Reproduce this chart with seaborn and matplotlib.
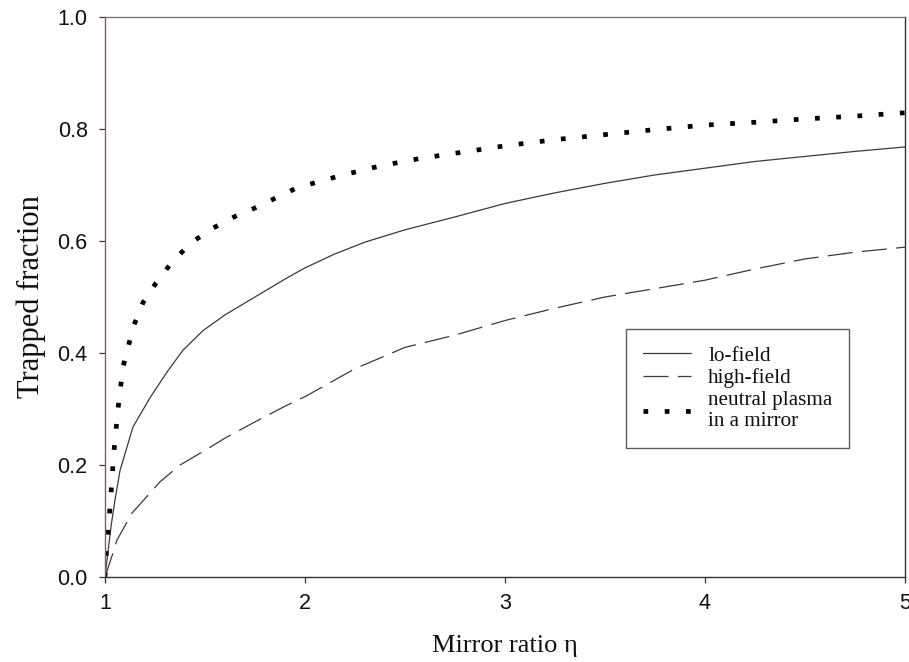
import matplotlib
matplotlib.use("Agg")
import matplotlib.pyplot as plt
import seaborn as sns
import pandas as pd

# ---- data ----
lo_x = [1.0, 1.015, 1.03, 1.05, 1.075, 1.11, 1.14, 1.225, 1.31, 1.39, 1.49, 1.6, 1.75,
        1.9, 2.0, 2.15, 2.3, 2.5, 2.75, 3.0, 3.25, 3.5, 3.75, 4.0, 4.25, 4.5, 4.75, 5.0]
lo_y = [0.0, 0.045, 0.09, 0.1375, 0.19, 0.232, 0.268, 0.32, 0.366, 0.405, 0.44, 0.468, 0.5,
        0.532, 0.552, 0.577, 0.598, 0.62, 0.643, 0.667, 0.686, 0.703, 0.718, 0.73, 0.742,
        0.751, 0.76, 0.768]

hi_x = [1.0, 1.04, 1.06, 1.135, 1.275, 1.375, 1.5, 1.6, 1.75, 1.9, 2.0, 2.25, 2.5, 2.75,
        3.0, 3.25, 3.5, 3.75, 4.0, 4.25, 4.5, 4.75, 5.0]
hi_y = [0.0, 0.043, 0.066, 0.114, 0.17, 0.2, 0.226, 0.248, 0.277, 0.305, 0.322, 0.372,
        0.41, 0.432, 0.458, 0.48, 0.5, 0.515, 0.53, 0.55, 0.568, 0.58, 0.589]

nt_x = [1.0, 1.005, 1.015, 1.03, 1.045, 1.065, 1.09, 1.115, 1.145, 1.19, 1.255, 1.335,
        1.435, 1.54, 1.645, 1.75, 1.855, 1.96, 2.17, 2.375, 2.585, 2.795, 3.0, 3.25,
        3.5, 3.75, 4.0, 4.25, 4.5, 4.75, 5.0]
nt_y = [0.0, 0.0375, 0.075, 0.15, 0.225, 0.30, 0.375, 0.41, 0.45, 0.49, 0.525, 0.5625,
        0.598, 0.623, 0.643, 0.659, 0.677, 0.695, 0.716, 0.734, 0.748, 0.759, 0.770,
        0.781, 0.790, 0.799, 0.807, 0.812, 0.818, 0.823, 0.829]

labels = ["lo-field", "high-field", "neutral plasma\nin a mirror"]
x_ticks = [1, 2, 3, 4, 5]
y_ticks = [0.0, 0.2, 0.4, 0.6, 0.8, 1.0]

sns.set_theme(style="white")
plt.rcParams['font.family'] = ['Liberation Sans', 'DejaVu Sans']

fig = plt.figure(figsize=(9.09, 6.62), dpi=100)
ax = fig.add_axes([0.1155, 0.1284, 0.88, 0.8459])

df_lo = pd.DataFrame({"x": lo_x, "y": lo_y})
df_hi = pd.DataFrame({"x": hi_x, "y": hi_y})
df_nt = pd.DataFrame({"x": nt_x, "y": nt_y})

sns.lineplot(data=df_lo, x="x", y="y", ax=ax, color="#3a3a3a", linewidth=0.9,
             label=labels[0])
sns.lineplot(data=df_hi, x="x", y="y", ax=ax, color="#3a3a3a", linewidth=0.9,
             linestyle=(0, (20, 7.5)), label=labels[1])
sns.lineplot(data=df_nt, x="x", y="y", ax=ax, color="black", linewidth=3.4,
             linestyle=(0, (1, 3.5)), dash_capstyle="butt", label=labels[2])

ax.set_xlim(1, 5)
ax.set_ylim(0, 1.0)
ax.set_xticks(x_ticks)
ax.set_xticklabels([str(v) for v in x_ticks])
ax.set_yticks(y_ticks)
ax.set_yticklabels([f"{v:.1f}" for v in y_ticks])
ax.tick_params(axis="both", which="major", direction="out", length=4.5, width=0.9,
               color="#333333", labelsize=15.5, labelcolor="#111111",
               bottom=True, left=True, top=False, right=False)
ax.tick_params(axis="x", pad=7)
ax.tick_params(axis="y", pad=8)

for side, col in [("left", "#a0524d"), ("top", "#777777"), ("right", "#333333"),
                  ("bottom", "#333333")]:
    ax.spines[side].set_visible(True)
    ax.spines[side].set_color(col)
    ax.spines[side].set_linewidth(1.0)

ax.set_xlabel("Mirror ratio η", family=["Liberation Serif", "DejaVu Serif"],
              fontsize=19, color="#111111", labelpad=15)
ax.set_ylabel("Trapped fraction", family=["Liberation Serif", "DejaVu Serif"],
              fontsize=22, color="#111111", labelpad=8)
ax.grid(False)

leg = ax.legend(loc="upper left", bbox_to_anchor=(0.651, 0.443), borderaxespad=0,
                frameon=True, fancybox=False, shadow=False, handlelength=2.3,
                handletextpad=0.8, labelspacing=0.12, borderpad=0.8,
                prop={"family": "Liberation Serif", "size": 15.2})
leg.get_frame().set_edgecolor("#333333")
leg.get_frame().set_linewidth(1.0)
for t in leg.get_texts():
    t.set_color("#111111")

fig.savefig("out.png", dpi=100)
